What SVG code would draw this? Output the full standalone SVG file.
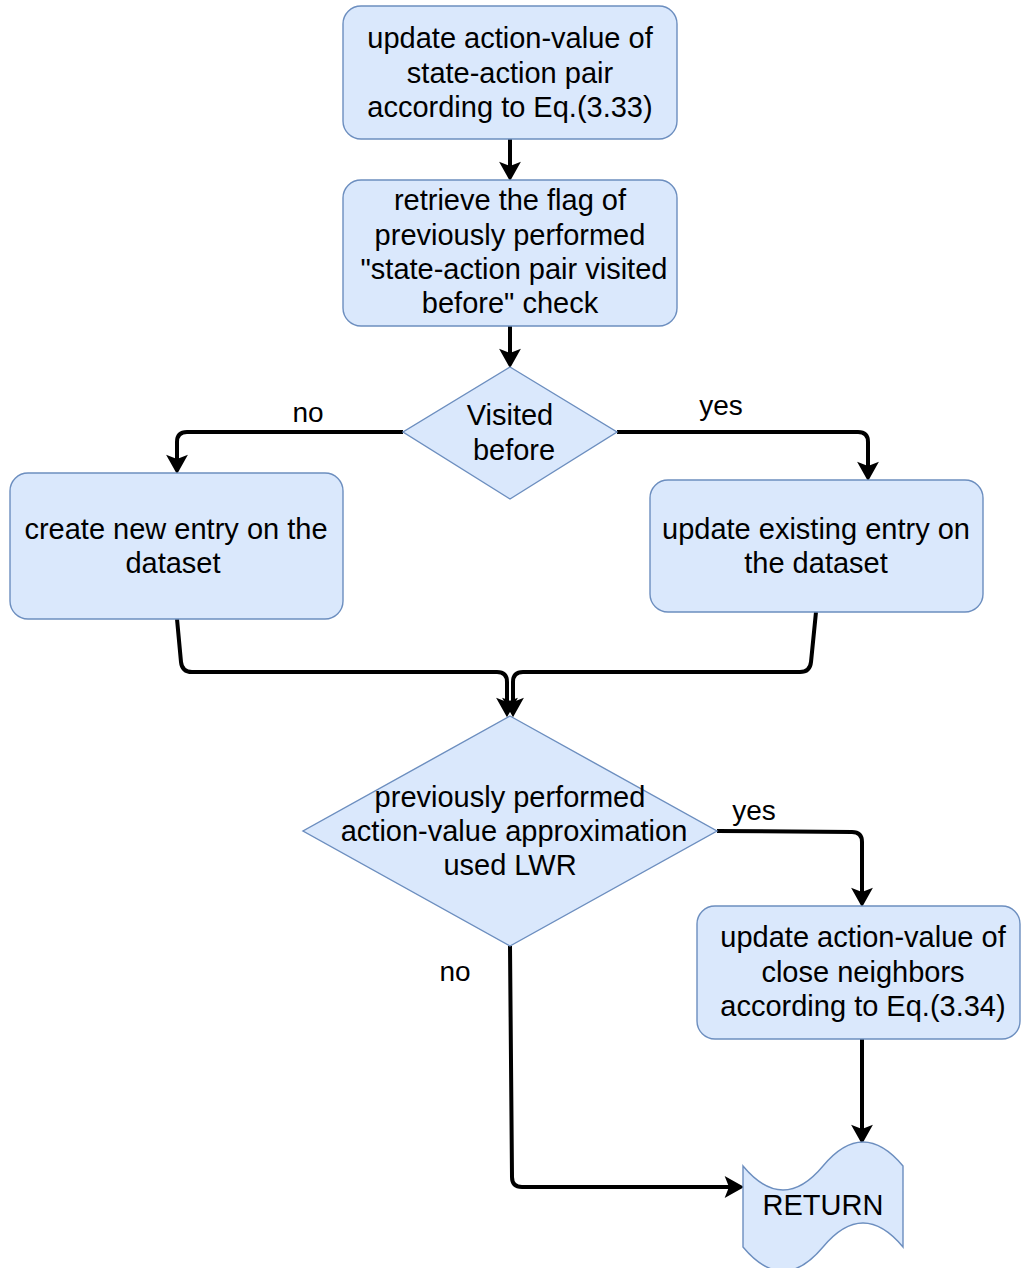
<svg xmlns="http://www.w3.org/2000/svg" width="1021" height="1268" viewBox="0 0 1021 1268">
  <style>
    .node { fill: #dae8fc; stroke: #6c8ebf; stroke-width: 1.4; }
    .txt { font-family: "Liberation Sans", Arial, Helvetica, sans-serif; font-size: 29px; fill: #000; text-anchor: middle; }
    .lbl { font-family: "Liberation Sans", Arial, Helvetica, sans-serif; font-size: 28px; fill: #000; text-anchor: middle; }
    .edge { fill: none; stroke: #000; stroke-width: 4; stroke-linejoin: round; }
  </style>
  <defs>
    <marker id="arrow" markerUnits="userSpaceOnUse" markerWidth="24" markerHeight="24" viewBox="-1 -11 22 22" refX="4" refY="0" orient="auto">
      <path d="M0,-10 L18,0 L0,10 L4,0 Z" fill="#000"/>
    </marker>
  </defs>
  <rect width="1021" height="1268" fill="#fff"/>

  <!-- connectors -->
  <g id="connectors">
    <path class="edge" marker-end="url(#arrow)" d="M510,139 L510,166"/>
    <path class="edge" marker-end="url(#arrow)" d="M510,326 L510,353"/>
    <path class="edge" marker-end="url(#arrow)" d="M403,432 L187,432 Q177,432 177,442 L177,459"/>
    <path class="edge" marker-end="url(#arrow)" d="M617,432 L858,432 Q868,432 868,442 L868,466"/>
    <path class="edge" marker-end="url(#arrow)" d="M177,619 L181,662 Q182,672 192,672 L497,672 Q507,672 507,682 L507,702"/>
    <path class="edge" marker-end="url(#arrow)" d="M816,612 L811,662 Q810,672 800,672 L523,672 Q513,672 513,682 L513,702"/>
    <path class="edge" marker-end="url(#arrow)" d="M717,831 L852,832 Q862,832 862,842 L862,892"/>
    <path class="edge" marker-end="url(#arrow)" d="M862,1039 L862,1129"/>
    <path class="edge" marker-end="url(#arrow)" d="M510,946 L512,1177 Q512,1187 522,1187 L729,1187"/>
    <text class="lbl" x="308" y="422">no</text>
    <text class="lbl" x="721" y="415">yes</text>
    <text class="lbl" x="754" y="820">yes</text>
    <text class="lbl" x="455" y="981">no</text>
  </g>

  <!-- update action-value of the state-action pair -->
  <g id="update-q">
    <rect class="node" x="343" y="6" width="334" height="133" rx="18"/>
    <text class="txt" x="510" y="48">update action-value of</text>
    <text class="txt" x="510" y="83">state-action pair</text>
    <text class="txt" x="510" y="117">according to Eq.(3.33)</text>
  </g>

  <!-- retrieve visited flag -->
  <g id="retrieve-flag">
    <rect class="node" x="343" y="180" width="334" height="146" rx="18"/>
    <text class="txt" x="510" y="210">retrieve the flag of</text>
    <text class="txt" x="510" y="245">previously performed</text>
    <text class="txt" x="514" y="279">"state-action pair visited</text>
    <text class="txt" x="510" y="313">before" check</text>
  </g>

  <!-- decision: visited before -->
  <g id="visited-before">
    <polygon class="node" points="510,367 617,432 510,499 403,432"/>
    <text class="txt" x="510" y="425">Visited</text>
    <text class="txt" x="514" y="460">before</text>
  </g>

  <!-- create new entry -->
  <g id="create-entry">
    <rect class="node" x="10" y="473" width="333" height="146" rx="18"/>
    <text class="txt" x="176" y="539">create new entry on the</text>
    <text class="txt" x="173" y="573">dataset</text>
  </g>

  <!-- update existing entry -->
  <g id="update-entry">
    <rect class="node" x="650" y="480" width="333" height="132" rx="18"/>
    <text class="txt" x="816" y="539">update existing entry on</text>
    <text class="txt" x="816" y="573">the dataset</text>
  </g>

  <!-- decision: LWR used -->
  <g id="lwr-used">
    <polygon class="node" points="510,716 717,831 510,946 303,831"/>
    <text class="txt" x="510" y="807">previously performed</text>
    <text class="txt" x="514" y="841">action-value approximation</text>
    <text class="txt" x="510" y="875">used LWR</text>
  </g>

  <!-- update close neighbors -->
  <g id="update-neighbors">
    <rect class="node" x="697" y="906" width="323" height="133" rx="18"/>
    <text class="txt" x="863" y="947">update action-value of</text>
    <text class="txt" x="863" y="982">close neighbors</text>
    <text class="txt" x="863" y="1016">according to Eq.(3.34)</text>
  </g>

  <!-- return terminator (tape shape) -->
  <g id="return">
    <path class="node" d="M743,1166 Q783,1214 823,1166 Q863,1118 903,1166 L903,1247 Q863,1199 823,1247 Q783,1295 743,1247 Z"/>
    <text class="txt" x="823" y="1215">RETURN</text>
  </g>
</svg>
